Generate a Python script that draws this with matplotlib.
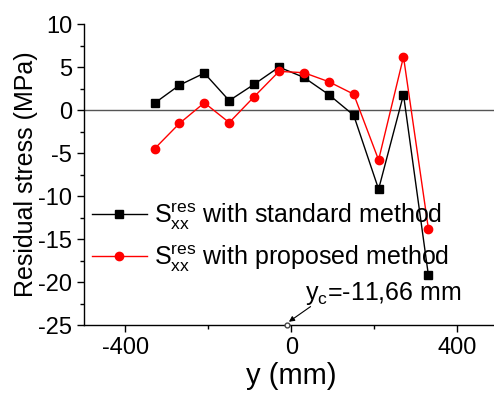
import matplotlib
matplotlib.use("Agg")
import matplotlib.pyplot as plt

plt.rcParams["font.family"] = ["Liberation Sans", "DejaVu Sans"]
plt.rcParams["mathtext.fontset"] = "custom"
plt.rcParams["mathtext.rm"] = "Liberation Sans"
plt.rcParams["mathtext.it"] = "Liberation Sans"
plt.rcParams["axes.unicode_minus"] = False

# measurement positions along y (mm)
y_pos = [-330, -270, -210, -150, -90, -30, 30, 90, 150, 210, 270, 330]
# residual stress S_xx (MPa)
s_standard = [0.8, 2.9, 4.3, 1.1, 3.0, 5.0, 3.8, 1.8, -0.6, -9.2, 1.8, -19.2]
s_proposed = [-4.5, -1.55, 0.85, -1.45, 1.55, 4.5, 4.35, 3.3, 1.85, -5.8, 6.2, -13.8]
y_c = -11.66

fig = plt.figure(figsize=(4.94, 3.95), dpi=100)
ax = fig.add_axes([0.170, 0.177, 0.840, 0.762])

ax.axhline(0, color="#555555", lw=1.0, zorder=1)
ax.plot(y_pos, s_standard, "-s", color="black", lw=1.0, ms=5.5,
        label=r"S$_{xx}^{res}$ with standard method", zorder=3)
ax.plot(y_pos, s_proposed, "-o", color="red", lw=1.0, ms=6,
        label=r"S$_{xx}^{res}$ with proposed method", zorder=3)

# centroid marker on the axis with its label
ax.plot([y_c], [-25], "o", mfc="white", mec="#444444", ms=3.5, mew=1,
        clip_on=False, zorder=4)
ax.annotate("", xy=(y_c, -24.8), xytext=(46, -22.85),
            arrowprops=dict(arrowstyle="-|>", color="black", lw=0.8,
                            mutation_scale=8, shrinkA=0, shrinkB=2))
ax.text(33, -22.1, r"y$_\mathrm{c}$=-11,66 mm", fontsize=18, va="baseline")

ax.set_xlim(-500, 500)
ax.set_ylim(-25, 10)
ax.set_xticks([-400, 0, 400])
ax.set_xticks([-200, 200], minor=True)
ax.set_yticks(range(-25, 11, 5))
ax.set_yticks([-22.5, -17.5, -12.5, -7.5, -2.5, 2.5, 7.5], minor=True)
ax.tick_params(which="major", direction="out", length=5, width=1, labelsize=17)
ax.tick_params(which="minor", direction="out", length=3, width=1)
for side in ["top", "right"]:
    ax.spines[side].set_visible(False)
for side in ["left", "bottom"]:
    ax.spines[side].set_linewidth(1.0)

ax.set_xlabel("y (mm)", fontsize=21, labelpad=2)
ax.set_ylabel("Residual stress (MPa)", fontsize=18)
ax.yaxis.set_label_coords(-0.112, 0.5)

ax.legend(loc="upper left", bbox_to_anchor=(0.165, 0.515), bbox_transform=fig.transFigure,
          frameon=False, fontsize=18, handlelength=2.2, handletextpad=0.3,
          labelspacing=0.45, borderaxespad=0)

fig.savefig("out.png", dpi=100)
